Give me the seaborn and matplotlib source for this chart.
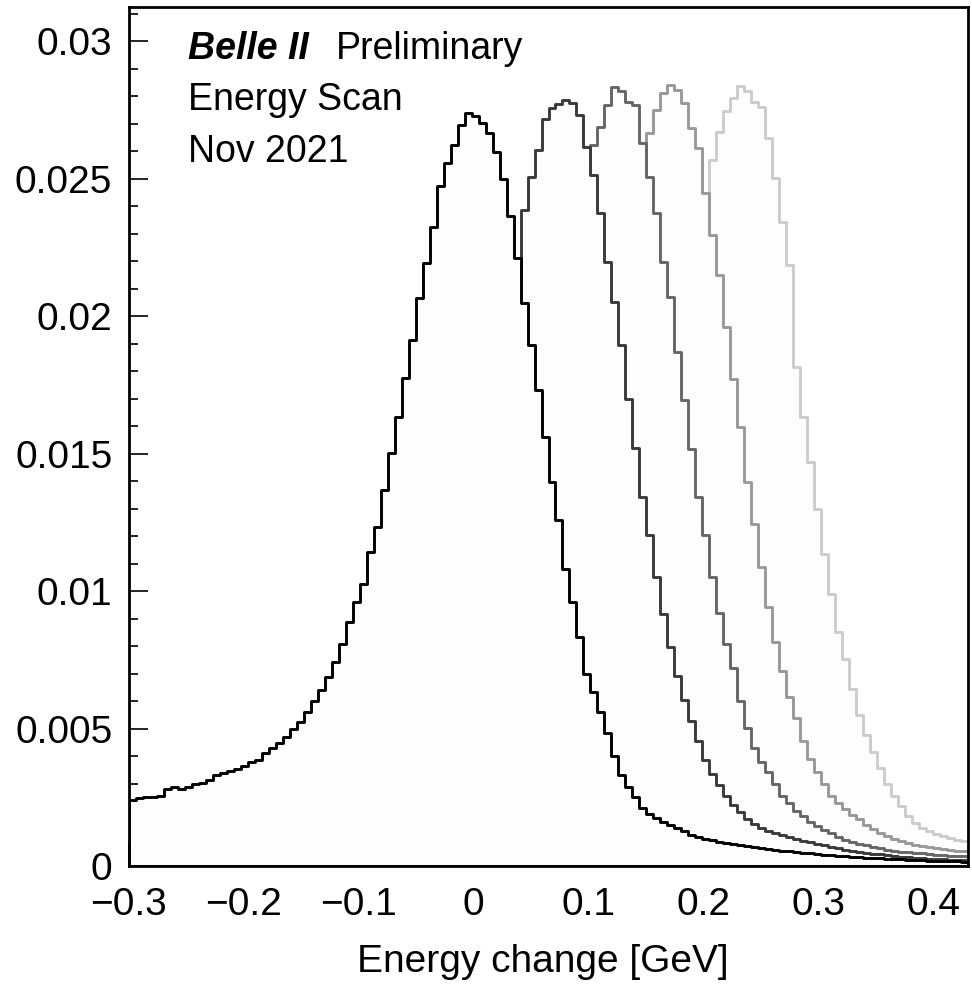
import numpy as np
import pandas as pd
import matplotlib
matplotlib.use("Agg")
import matplotlib.pyplot as plt
import seaborn as sns
from matplotlib.ticker import MultipleLocator, FuncFormatter

# ---------------- data (bin contents) ----------------
X_MIN, X_MAX, N_BINS = -0.30, 0.43, 120

scan_1 = [0.00240, 0.00249, 0.00250, 0.00252, 0.00256, 0.00280, 0.00286, 0.00280, 0.00286, 0.00300,
          0.00301, 0.00312, 0.00331, 0.00337, 0.00345, 0.00354, 0.00364, 0.00380, 0.00384, 0.00412,
          0.00430, 0.00448, 0.00470, 0.00500, 0.00525, 0.00559, 0.00599, 0.00641, 0.00686, 0.00741,
          0.00806, 0.00887, 0.00960, 0.01026, 0.01144, 0.01233, 0.01367, 0.01503, 0.01634, 0.01776,
          0.01913, 0.02065, 0.02193, 0.02323, 0.02472, 0.02557, 0.02624, 0.02697, 0.02739, 0.02727,
          0.02703, 0.02666, 0.02596, 0.02498, 0.02366, 0.02211, 0.02047, 0.01895, 0.01731, 0.01561,
          0.01397, 0.01260, 0.01081, 0.00960, 0.00834, 0.00699, 0.00633, 0.00562, 0.00484, 0.00400,
          0.00330, 0.00286, 0.00250, 0.00210, 0.00190, 0.00175, 0.00161, 0.00149, 0.00137, 0.00126,
          0.00112, 0.00104, 0.00098, 0.00094, 0.00089, 0.00084, 0.00080, 0.00077, 0.00073, 0.00069,
          0.00065, 0.00062, 0.00059, 0.00056, 0.00053, 0.00050, 0.00048, 0.00046, 0.00043, 0.00041,
          0.00039, 0.00037, 0.00035, 0.00033, 0.00032, 0.00030, 0.00029, 0.00028, 0.00026, 0.00025,
          0.00024, 0.00023, 0.00022, 0.00021, 0.00020, 0.00019, 0.00019, 0.00018, 0.00017, 0.00016]

scan_2 = [0.02000, 0.02150, 0.02387, 0.02508, 0.02605, 0.02717, 0.02757, 0.02773, 0.02785, 0.02775,
          0.02733, 0.02617, 0.02514, 0.02375, 0.02198, 0.02053, 0.01895, 0.01700, 0.01522, 0.01342,
          0.01203, 0.01051, 0.00917, 0.00796, 0.00690, 0.00603, 0.00526, 0.00454, 0.00385, 0.00335,
          0.00295, 0.00255, 0.00222, 0.00197, 0.00172, 0.00152, 0.00138, 0.00127, 0.00119, 0.00111,
          0.00104, 0.00097, 0.00091, 0.00086, 0.00081, 0.00075, 0.00070, 0.00064, 0.00059, 0.00055,
          0.00051, 0.00048, 0.00045, 0.00042, 0.00039, 0.00036, 0.00034, 0.00032, 0.00030, 0.00028,
          0.00027, 0.00025, 0.00024, 0.00023, 0.00022, 0.00022]

scan_3 = [0.02450, 0.02550, 0.02624, 0.02690, 0.02770, 0.02834, 0.02818, 0.02781, 0.02770, 0.02630,
          0.02508, 0.02375, 0.02198, 0.02071, 0.01870, 0.01694, 0.01518, 0.01342, 0.01203, 0.01051,
          0.00920, 0.00809, 0.00720, 0.00600, 0.00502, 0.00428, 0.00379, 0.00342, 0.00299, 0.00256,
          0.00230, 0.00200, 0.00182, 0.00160, 0.00145, 0.00130, 0.00121, 0.00105, 0.00096, 0.00088,
          0.00080, 0.00076, 0.00070, 0.00064, 0.00059, 0.00055, 0.00052, 0.00050, 0.00048, 0.00046,
          0.00044, 0.00041, 0.00039, 0.00037, 0.00036, 0.00035]

scan_4 = [0.02500, 0.02666, 0.02751, 0.02812, 0.02842, 0.02824, 0.02776, 0.02684, 0.02612, 0.02448,
          0.02296, 0.02150, 0.01960, 0.01773, 0.01597, 0.01397, 0.01245, 0.01087, 0.00941, 0.00816,
          0.00711, 0.00613, 0.00539, 0.00453, 0.00391, 0.00342, 0.00299, 0.00256, 0.00230, 0.00207,
          0.00185, 0.00170, 0.00150, 0.00133, 0.00120, 0.00109, 0.00100, 0.00090, 0.00082, 0.00077,
          0.00073, 0.00069, 0.00065, 0.00062, 0.00059, 0.00056, 0.00053]

scan_5 = [0.02350, 0.02569, 0.02672, 0.02745, 0.02794, 0.02836, 0.02818, 0.02781, 0.02760, 0.02648,
          0.02502, 0.02344, 0.02186, 0.01816, 0.01634, 0.01470, 0.01300, 0.01136, 0.00990,
          0.00852, 0.00754, 0.00644, 0.00551, 0.00477, 0.00416, 0.00355, 0.00299, 0.00256, 0.00219,
          0.00182, 0.00158, 0.00140, 0.00128, 0.00118, 0.00108, 0.00101, 0.00096, 0.00092]

series_values = [scan_1, scan_2, scan_3, scan_4, scan_5]
series_first_bin = [0, 54, 64, 73, 82]
line_colors = ["#000000", "#3a3a3a", "#666666", "#999999", "#cccccc"]

x_ticks = [-0.3, -0.2, -0.1, 0.0, 0.1, 0.2, 0.3, 0.4]
y_ticks = [0, 0.005, 0.01, 0.015, 0.02, 0.025, 0.03]

# ---------------- style ----------------
sns.set_theme(style="ticks")
plt.rcParams["font.family"] = ["Liberation Sans", "DejaVu Sans"]
plt.rcParams["axes.unicode_minus"] = True
plt.rcParams["text.color"] = "black"
plt.rcParams["axes.labelcolor"] = "black"

W, H = 972, 985
fig = plt.figure(figsize=(W / 100, H / 100), dpi=100)
ax_l, ax_r, ax_t, ax_b = 129, 968, 7, 866
ax = fig.add_axes([ax_l / W, 1 - ax_b / H, (ax_r - ax_l) / W, (ax_b - ax_t) / H])

edges = np.linspace(X_MIN, X_MAX, N_BINS + 1)

# lightest first, darkest last (each filled with near-white so it hides the ones behind)
for i in reversed(range(len(series_values))):
    vals = list(series_values[i])
    s = series_first_bin[i]
    e = [float(v) for v in edges[s:s + len(vals) + 1]]
    centers = [0.5 * (e[k] + e[k + 1]) for k in range(len(vals))]
    df = pd.DataFrame({"x": centers, "w": vals})
    sns.histplot(data=df, x="x", weights="w", bins=e, element="step", fill=True,
                 facecolor="#fdfdfd", edgecolor=line_colors[i], linewidth=2.1, ax=ax)

ax.set_xlim(X_MIN, X_MAX)
ax.set_ylim(0, 0.03125)
ax.set_xticks(x_ticks)
ax.set_yticks(y_ticks)
ax.xaxis.set_minor_locator(MultipleLocator(0.02))
ax.yaxis.set_minor_locator(MultipleLocator(0.001))

def fmt(v, pos):
    s = f"{v:.3f}".rstrip("0").rstrip(".")
    if s in ("-0", ""):
        s = "0"
    return s.replace("-", "\u2212")

ax.xaxis.set_major_formatter(FuncFormatter(fmt))
ax.yaxis.set_major_formatter(FuncFormatter(fmt))

ax.tick_params(axis="both", which="both", direction="in", top=False, right=False,
               labelsize=28, width=1.2, color="black", labelcolor="black")
ax.tick_params(axis="x", which="major", length=16.5, pad=15)
ax.tick_params(axis="x", which="minor", length=8.3)
ax.tick_params(axis="y", which="major", length=13.7, pad=12)
ax.tick_params(axis="y", which="minor", length=6.8)

for sp in ax.spines.values():
    sp.set_linewidth(2.0)
    sp.set_color("black")
    sp.set_visible(True)

ax.set_ylabel("")
ax.set_xlabel("Energy change [GeV]", fontsize=28, color="black")
ax.xaxis.label.set_va("baseline")
ax.xaxis.set_label_coords(0.493, -(972 - ax_b) / (ax_b - ax_t))

ax.set_facecolor("white")
fig.patch.set_facecolor("white")

fig.text(188 / W, 1 - 59 / H, "Belle II", fontsize=27, fontweight="bold", style="italic",
         va="baseline", ha="left", color="black")
fig.text(336 / W, 1 - 59 / H, "Preliminary", fontsize=27, va="baseline", ha="left", color="black")
fig.text(188 / W, 1 - 110 / H, "Energy Scan", fontsize=27, va="baseline", ha="left", color="black")
fig.text(188 / W, 1 - 162 / H, "Nov 2021", fontsize=27, va="baseline", ha="left", color="black")

fig.savefig("out.png", dpi=100)
